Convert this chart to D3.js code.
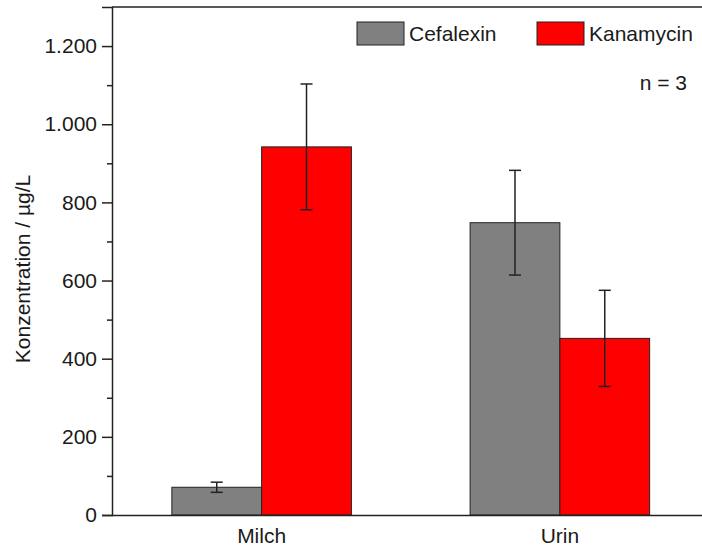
<!DOCTYPE html>
<html>
<head>
<meta charset="utf-8">
<script src="https://cdn.jsdelivr.net/npm/d3@7"></script>
<style>
  html, body { margin: 0; padding: 0; background: #fff; }
  svg { display: block; }
  text { font-family: "Liberation Sans", Arial, sans-serif; fill: #1a1a1a; }
</style>
</head>
<body>
<svg id="chart" width="702" height="549"></svg>
<script>
const categories = ["Milch", "Urin"];
const series = ["Cefalexin", "Kanamycin"];
const cefalexin = [71, 748];
const cefalexinErr = [13, 134];
const kanamycin = [942, 452];
const kanamycinErr = [161, 123];
const yTicks = [0, 200, 400, 600, 800, 1000, 1200];
const yMinorTicks = [100, 300, 500, 700, 900, 1100, 1300];
const seriesColors = ["#808080", "#ff0000"];
const annotation = "n = 3";
const yTitle = "Konzentration / µg/L";

const values = [cefalexin, kanamycin];
const errors = [cefalexinErr, kanamycinErr];

const svg = d3.select("#chart");
const pLeft = 112, pRight = 709, pTop = 7, pBottom = 515;
const fs = 21;

const de = d3.formatLocale({decimal: ",", thousands: ".", grouping: [3], currency: ["", "€"]});
const fmt = de.format(",d");

const x = d3.scaleBand().domain(categories).range([112.5, 709]).paddingInner(0.398).paddingOuter(0.199);
const xs = d3.scaleBand().domain(series).range([0, x.bandwidth()]);
const y = d3.scaleLinear().domain([0, 1300]).range([pBottom, pTop]);

const data = [];
categories.forEach((c, i) => {
  series.forEach((s, j) => {
    data.push({c, s, j, v: values[j][i], e: errors[j][i]});
  });
});

const g = svg.append("g");
g.selectAll("rect.bar").data(data).join("rect")
  .attr("class", "bar")
  .attr("x", d => x(d.c) + xs(d.s))
  .attr("y", d => y(d.v))
  .attr("width", xs.bandwidth())
  .attr("height", d => y(0) - y(d.v))
  .attr("fill", d => seriesColors[d.j])
  .attr("stroke", "#222")
  .attr("stroke-width", 1);

const cap = 6;
const cx = d => x(d.c) + xs(d.s) + xs.bandwidth() / 2;
const eb = g.selectAll("g.err").data(data).join("g").attr("class", "err")
  .attr("stroke", "#222").attr("stroke-width", 1.5);
eb.append("line")
  .attr("x1", cx).attr("x2", cx)
  .attr("y1", d => y(d.v + d.e)).attr("y2", d => y(d.v - d.e));
eb.append("line")
  .attr("x1", d => cx(d) - cap).attr("x2", d => cx(d) + cap)
  .attr("y1", d => y(d.v + d.e)).attr("y2", d => y(d.v + d.e));
eb.append("line")
  .attr("x1", d => cx(d) - cap).attr("x2", d => cx(d) + cap)
  .attr("y1", d => y(d.v - d.e)).attr("y2", d => y(d.v - d.e));

svg.append("line").attr("x1", pLeft).attr("x2", pRight).attr("y1", pTop).attr("y2", pTop)
  .attr("stroke", "#222").attr("stroke-width", 1.5);

const yAxis = svg.append("g").attr("transform", `translate(${pLeft},0)`)
  .call(d3.axisLeft(y).tickValues(yTicks).tickFormat(fmt).tickSize(10).tickPadding(5));
yAxis.select(".domain").attr("stroke", "#222").attr("stroke-width", 1.5);
yAxis.selectAll(".tick line").attr("stroke", "#222").attr("stroke-width", 1.5);
yAxis.selectAll(".tick text").attr("font-size", fs).attr("font-family", "Liberation Sans, Arial, sans-serif").attr("fill", "#1a1a1a");
const yMinor = svg.append("g").attr("transform", `translate(${pLeft},0)`)
  .call(d3.axisLeft(y).tickValues(yMinorTicks.filter(t => y(t) > pTop + 2)).tickFormat("").tickSize(5));
yMinor.select(".domain").remove();
yMinor.selectAll(".tick line").attr("stroke", "#222").attr("stroke-width", 1.5);

const xAxis = svg.append("g").attr("transform", `translate(0,${pBottom})`)
  .call(d3.axisBottom(x).tickSize(0).tickPadding(13));
xAxis.select(".domain").attr("d", `M${pLeft},0.5H${pRight}`).attr("stroke", "#222").attr("stroke-width", 1.5);
xAxis.selectAll(".tick text").attr("font-size", fs).attr("font-family", "Liberation Sans, Arial, sans-serif").attr("fill", "#1a1a1a");

svg.append("text")
  .attr("transform", `translate(30,${(pTop + pBottom) / 2 + 8}) rotate(-90)`)
  .attr("text-anchor", "middle")
  .attr("font-size", fs)
  .text(yTitle);

const legendX = [357, 537];
const lg = svg.selectAll("g.leg").data(series).join("g").attr("class", "leg")
  .attr("transform", (d, i) => `translate(${legendX[i]},22)`);
lg.append("rect").attr("width", 47).attr("height", 23)
  .attr("fill", (d, i) => seriesColors[i]).attr("stroke", "#222").attr("stroke-width", 1);
lg.append("text").attr("x", 52).attr("y", 19).attr("font-size", fs).text(d => d);

svg.append("text").attr("x", 687).attr("y", 90).attr("text-anchor", "end")
  .attr("font-size", fs).text(annotation);
</script>
</body>
</html>
